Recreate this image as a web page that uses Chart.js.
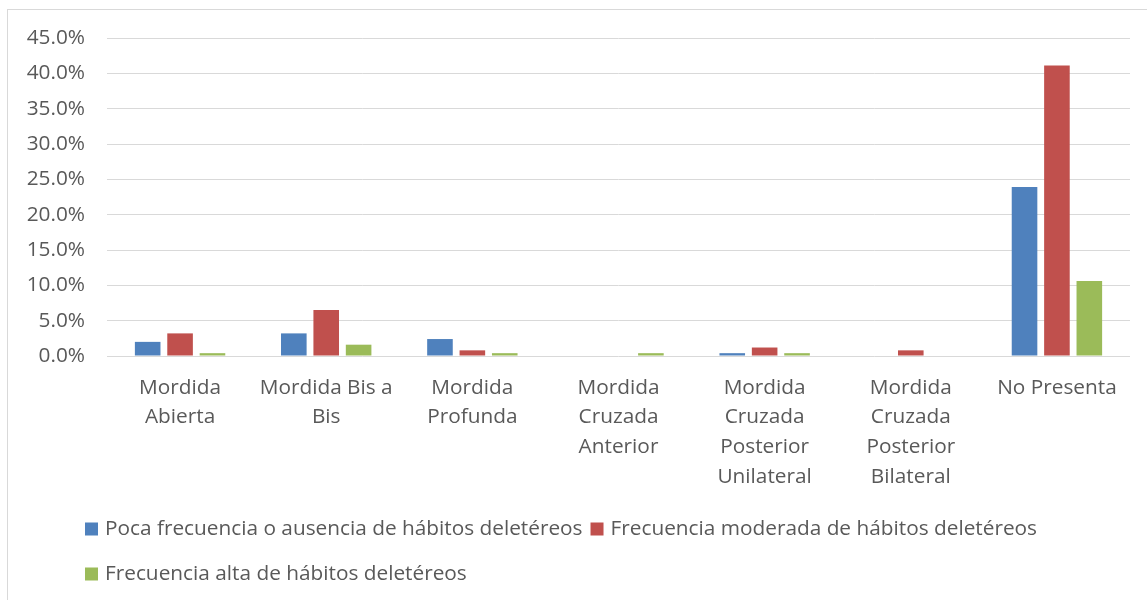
<!DOCTYPE html>
<html>
<head>
<meta charset="utf-8">
<script src="https://cdn.jsdelivr.net/npm/chart.js@4/dist/chart.umd.min.js"></script>
<style>
  html, body { margin: 0; padding: 0; background: #ffffff; }
  #wrap { width: 1147px; height: 600px; }
</style>
</head>
<body>
<div id="wrap"><canvas id="c" width="1147" height="600"></canvas></div>
<script>
const categories = [
  ["Mordida", "Abierta"],
  ["Mordida Bis a", "Bis"],
  ["Mordida", "Profunda"],
  ["Mordida", "Cruzada", "Anterior"],
  ["Mordida", "Cruzada", "Posterior", "Unilateral"],
  ["Mordida", "Cruzada", "Posterior", "Bilateral"],
  "No Presenta"
];
const seriesNames = [
  "Poca frecuencia o ausencia de hábitos deletéreos",
  "Frecuencia moderada de hábitos deletéreos",
  "Frecuencia alta de hábitos deletéreos"
];
const pocaFrecuencia   = [2.0, 3.2, 2.4, 0.0, 0.4, 0.0, 23.9];
const frecModerada     = [3.2, 6.5, 0.8, 0.0, 1.2, 0.8, 41.1];
const frecAlta         = [0.4, 1.6, 0.4, 0.4, 0.4, 0.0, 10.6];
const yTickMax = 45;
const yTickStep = 5;

const colors = ["#4F81BD", "#C0504D", "#9BBB59"];
const FONT = "'Open Sans', 'Noto Sans', sans-serif";
const FONT_SIZE = 20.8;
const TEXT_COLOR = "#595959";

const frameAndLegend = {
  id: "frameAndLegend",
  beforeDraw(chart) {
    const ctx = chart.ctx;
    ctx.save();
    ctx.fillStyle = "#ffffff";
    ctx.fillRect(0, 0, chart.width, chart.height);
    ctx.strokeStyle = "#D9D9D9";
    ctx.lineWidth = 1;
    ctx.strokeRect(7.5, 9.5, chart.width + 10, chart.height + 10);
    ctx.restore();
  },
  afterDraw(chart) {
    const ctx = chart.ctx;
    ctx.save();
    ctx.font = FONT_SIZE + "px " + FONT;
    ctx.textBaseline = "middle";
    ctx.fillStyle = TEXT_COLOR;
    const startX = 85, rows = [529, 574], maxRight = 1110;
    let x = startX, row = 0;
    chart.data.datasets.forEach((ds, i) => {
      const w = 20 + ctx.measureText(ds.label).width;
      if (x + w > maxRight && x !== startX) { row++; x = startX; }
      const y = rows[Math.min(row, rows.length - 1)];
      ctx.fillStyle = ds.backgroundColor;
      ctx.fillRect(x, y - 6.5, 13, 13);
      ctx.fillStyle = TEXT_COLOR;
      ctx.fillText(ds.label, x + 20, y);
      x += w + 8;
    });
    ctx.restore();
  }
};

new Chart(document.getElementById("c"), {
  type: "bar",
  data: {
    labels: categories,
    datasets: [
      { label: seriesNames[0], data: pocaFrecuencia, backgroundColor: colors[0] },
      { label: seriesNames[1], data: frecModerada, backgroundColor: colors[1] },
      { label: seriesNames[2], data: frecAlta, backgroundColor: colors[2] }
    ]
  },
  options: {
    responsive: false,
    animation: false,
    devicePixelRatio: 1,
    layout: { padding: { left: 0, right: 17, top: 38, bottom: 0 } },
    datasets: { bar: { categoryPercentage: 0.665, barPercentage: 0.79 } },
    plugins: { legend: { display: false }, tooltip: { enabled: false } },
    scales: {
      x: {
        grid: { display: false, drawTicks: false },
        border: { display: false },
        ticks: {
          color: TEXT_COLOR,
          font: { family: FONT, size: FONT_SIZE, lineHeight: 29.7 / FONT_SIZE },
          padding: 17,
          maxRotation: 0,
          autoSkip: false
        },
        afterFit(axis) { axis.height = 244; }
      },
      y: {
        min: 0,
        max: yTickMax,
        grid: { color: "#D9D9D9", lineWidth: 1, drawTicks: false },
        border: { display: false },
        ticks: {
          stepSize: yTickStep,
          color: TEXT_COLOR,
          font: { family: FONT, size: FONT_SIZE },
          padding: 22,
          callback: v => v.toFixed(1) + "%"
        },
        afterFit(axis) { axis.width = 107; }
      }
    }
  },
  plugins: [frameAndLegend]
});
</script>
</body>
</html>
